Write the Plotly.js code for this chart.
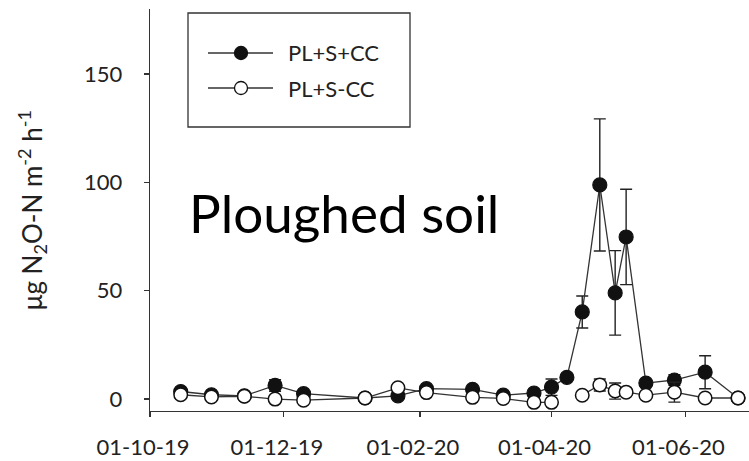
<!DOCTYPE html>
<html>
<head>
<meta charset="utf-8">
<script src="https://cdn.plot.ly/plotly-3.0.1.min.js"></script>
<style>
  html, body { margin: 0; padding: 0; background: #fff; }
  #chart { width: 749px; height: 461px; }
</style>
</head>
<body>
<div id="chart"></div>
<script>
// Sampling dates of the N2O flux campaign
const sampleDates = [
  '2019-10-15', '2019-10-29', '2019-11-13', '2019-11-27', '2019-12-10',
  '2020-01-07', '2020-01-22', '2020-02-04', '2020-02-25', '2020-03-10',
  '2020-03-24', '2020-04-01', '2020-04-08', '2020-04-15', '2020-04-23',
  '2020-04-30', '2020-05-05', '2020-05-14', '2020-05-27', '2020-06-10',
  '2020-06-25'
];

// Ploughed soil, with cover crop (µg N2O-N m-2 h-1)
const fluxWithCC = [
  3.5, 2.0, 1.5, 6.3, 2.5,
  0.5, 1.5, 4.8, 4.5, 1.8,
  2.8, 5.5, 10.0, 40.2, 98.8,
  49.0, 74.8, 7.4, 8.8, 12.4,
  0.5
];
const errWithCC = [
  0.8, null, null, 2.7, null,
  null, null, null, null, null,
  null, 3.8, null, 7.4, 30.5,
  19.5, 22.0, null, 2.4, 7.6,
  null
];

// Ploughed soil, without cover crop
const fluxNoCC = [
  2.0, 1.0, 1.3, 0.0, -0.5,
  0.5, 5.2, 3.0, 0.8, 0.3,
  -1.5, -1.5, null, 1.8, 6.5,
  3.7, 3.2, 1.8, 3.2, 0.5,
  0.5
];
const errNoCC = [
  null, null, null, null, null,
  null, null, null, null, null,
  null, null, null, null, 2.8,
  3.7, null, null, 4.6, null,
  null
];

const seriesNames = ['PL+S+CC', 'PL+S-CC'];
const tickDates = ['2019-10-01', '2019-12-01', '2020-02-01', '2020-04-01', '2020-06-01'];
const tickLabels = ['01-10-19', '01-12-19', '01-02-20', '01-04-20', '01-06-20'];
const yTicks = [0, 50, 100, 150];

// Page geometry (pixels)
const W = 749, H = 461;
const M = { l: 150, r: 0, t: 9, b: 50 };
const px2x = p => (p - M.l) / (W - M.l - M.r);
const py2y = p => (H - M.b - p) / (H - M.t - M.b);

const FONT = 'Lato, "Open Sans", sans-serif';
const INK = '#222';
const LINE = '#333';

const traceWithCC = {
  type: 'scatter', mode: 'lines+markers', name: seriesNames[0],
  x: sampleDates, y: fluxWithCC,
  line: { color: LINE, width: 1.3 },
  marker: { symbol: 'circle', size: 14, color: '#111', line: { color: '#111', width: 1.2 } },
  error_y: { type: 'data', array: errWithCC, visible: true, color: INK, thickness: 1.4, width: 6 },
  cliponaxis: false, showlegend: false
};

const traceNoCC = {
  type: 'scatter', mode: 'lines+markers', name: seriesNames[1],
  x: sampleDates, y: fluxNoCC,
  connectgaps: false,
  line: { color: LINE, width: 1.3 },
  marker: { symbol: 'circle', size: 13.5, color: '#fff', line: { color: '#111', width: 1.5 } },
  error_y: { type: 'data', array: errNoCC, visible: true, color: INK, thickness: 1.4, width: 6 },
  cliponaxis: false, showlegend: false
};

// Hand-built legend box with long sample lines
const legendRows = [
  { y: 53, fill: '#111', text: seriesNames[0] },
  { y: 88, fill: '#fff', text: seriesNames[1] }
];
const shapes = [{
  type: 'rect', xref: 'paper', yref: 'paper',
  x0: px2x(188), x1: px2x(410), y0: py2y(127), y1: py2y(13),
  line: { color: LINE, width: 1.3 }, fillcolor: 'rgba(0,0,0,0)'
}];
const annotations = [];
legendRows.forEach(r => {
  shapes.push({
    type: 'line', xref: 'paper', yref: 'paper',
    x0: px2x(208), x1: px2x(273), y0: py2y(r.y), y1: py2y(r.y),
    line: { color: LINE, width: 1.3 }
  });
  shapes.push({
    type: 'circle', xref: 'paper', yref: 'paper',
    xsizemode: 'pixel', ysizemode: 'pixel',
    xanchor: px2x(241), yanchor: py2y(r.y),
    x0: -6.5, x1: 6.5, y0: -6.5, y1: 6.5,
    fillcolor: r.fill, line: { color: '#111', width: 1.3 }
  });
  annotations.push({
    xref: 'paper', yref: 'paper', x: px2x(286), y: py2y(r.y),
    xanchor: 'left', yanchor: 'middle', showarrow: false,
    text: r.text, font: { family: FONT, size: 22, color: INK }
  });
});

// Panel label
annotations.push({
  xref: 'paper', yref: 'paper', x: px2x(187), y: py2y(212),
  xanchor: 'left', yanchor: 'middle', showarrow: false,
  text: 'Ploughed soil', font: { family: FONT, size: 53, color: '#000' }
});

const layout = {
  width: W, height: H,
  margin: M,
  paper_bgcolor: '#fff', plot_bgcolor: '#fff',
  font: { family: FONT, color: INK },
  showlegend: false,
  xaxis: {
    type: 'date',
    range: ['2019-10-01', '2020-06-30'],
    tickmode: 'array', tickvals: tickDates, ticktext: tickLabels,
    ticks: 'outside', ticklen: 5, tickwidth: 1.3, tickcolor: LINE,
    showline: true, linecolor: LINE, linewidth: 1.3,
    showgrid: false, zeroline: false,
    tickfont: { family: FONT, size: 22, color: INK },
    ticklabelshift: -7, ticklabelstandoff: 11
  },
  yaxis: {
    range: [-5.5, 180],
    tickmode: 'array', tickvals: yTicks,
    ticks: 'outside', ticklen: 5, tickwidth: 1.3, tickcolor: LINE,
    showline: true, linecolor: LINE, linewidth: 1.3,
    showgrid: false, zeroline: false,
    tickfont: { family: FONT, size: 22, color: INK },
    ticklabelstandoff: 17,
    title: {
      text: 'μg N<sub>2</sub>O-N m<sup>-2</sup> h<sup>-1</sup>',
      font: { family: FONT, size: 26, color: INK },
      standoff: 34
    }
  },
  shapes: shapes,
  annotations: annotations
};

Plotly.newPlot('chart', [traceWithCC, traceNoCC], layout, { staticPlot: true, displayModeBar: false });
</script>
</body>
</html>
